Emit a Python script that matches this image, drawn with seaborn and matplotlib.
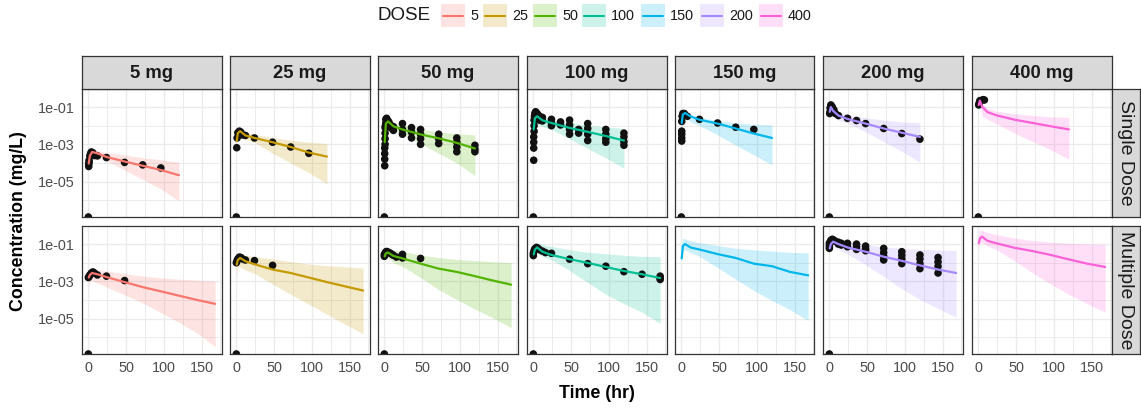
import numpy as np
import pandas as pd
import matplotlib
matplotlib.use("Agg")
import matplotlib.pyplot as plt
import seaborn as sns
from matplotlib.patches import Rectangle
from matplotlib.lines import Line2D
from matplotlib.ticker import FixedLocator, FixedFormatter, NullFormatter

# ---------------- data ----------------
doses = [5, 25, 50, 100, 150, 200, 400]
dose_labels = ["5 mg", "25 mg", "50 mg", "100 mg", "150 mg", "200 mg", "400 mg"]
regimens = ["Single Dose", "Multiple Dose"]
palette = ["#F8766D", "#C49A00", "#53B400", "#00C094", "#00B6EB", "#A58AFF", "#FB61D7"]

ytick_vals = [1e-7, 1e-5, 1e-3, 1e-1]
ytick_labels = ["1e-07", "1e-05", "1e-03", "1e-01"]
xtick_vals = [0, 50, 100, 150]
xtick_labels = ["0", "50", "100", "150"]

t_single = [0.5, 2, 5, 12, 24, 48, 72, 96, 120]
t_multi = [0.5, 2, 5, 12, 24, 48, 72, 96, 120, 144, 168]

# Single dose: predicted median, 5th and 95th percentiles (mg/L)
sd5_med = [9.3e-5, 2.4e-4, 3.9e-4, 3.3e-4, 2.1e-4, 1.2e-4, 7.1e-5, 4.2e-5, 2.2e-5]
sd5_lo = [6.3e-5, 1.6e-4, 2.5e-4, 1.8e-4, 1.3e-4, 4.2e-5, 1.3e-5, 4.0e-6, 9.1e-7]
sd5_hi = [1.3e-4, 3.5e-4, 5.0e-4, 4.5e-4, 3.6e-4, 2.7e-4, 1.9e-4, 1.5e-4, 1.1e-4]
sd5_obs_t = [0, 0.5, 0.5, 1, 1, 2, 3, 4, 6, 8, 12, 24, 48, 72, 96]
sd5_obs_c = [0, 6.5e-5, 8.7e-5, 1.1e-4, 1.4e-4, 2.4e-4, 3.2e-4, 3.9e-4, 3.5e-4, 2.5e-4, 2.4e-4,
             1.95e-4, 1.07e-4, 7.9e-5, 5.4e-5]

sd25_med = [1.5e-3, 4.0e-3, 5.1e-3, 3.0e-3, 2.2e-3, 1.3e-3, 7.2e-4, 3.6e-4, 2.2e-4]
sd25_lo = [1.0e-3, 2.5e-3, 2.5e-3, 1.8e-3, 1.3e-3, 3.3e-4, 1.0e-4, 3.0e-5, 7.6e-6]
sd25_hi = [2.5e-3, 5.4e-3, 5.5e-3, 4.5e-3, 3.4e-3, 2.3e-3, 1.7e-3, 1.3e-3, 1.1e-3]
sd25_obs_t = [0, 0.5, 1, 2, 4, 6, 8, 12, 24, 48, 72, 96]
sd25_obs_c = [0, 6.6e-4, 2.2e-3, 4.2e-3, 5.1e-3, 4.5e-3, 3.2e-3, 3.0e-3, 2.2e-3, 1.3e-3, 7.2e-4, 3.3e-4]

sd50_med = [1.3e-3, 1.3e-2, 1.7e-2, 9.3e-3, 6.3e-3, 3.4e-3, 2.1e-3, 1.2e-3, 6.0e-4]
sd50_lo = [5.0e-4, 6.3e-3, 7.9e-3, 5.0e-3, 3.5e-3, 1.1e-3, 3.3e-4, 1.0e-4, 2.1e-5]
sd50_hi = [4.0e-3, 2.0e-2, 2.1e-2, 1.4e-2, 1.1e-2, 6.5e-3, 4.6e-3, 3.8e-3, 3.2e-3]
sd50_obs_t = [0, 0.5, 0.5, 0.5, 0.5, 1, 1, 1, 1, 1.5, 2, 2, 3, 4, 4, 6, 6, 8, 8, 12, 12,
              24, 24, 24, 36, 36, 36, 48, 48, 48, 48, 72, 72, 72, 96, 96, 96, 96, 120, 120, 120]
sd50_obs_c = [0, 7.1e-5, 1.6e-4, 3.2e-4, 6.3e-4, 1.0e-3, 2.0e-3, 4.0e-3, 7.9e-3, 1.0e-2,
              1.4e-2, 2.2e-2, 2.5e-2, 2.0e-2, 1.3e-2, 1.6e-2, 1.0e-2, 1.1e-2, 7.9e-3, 8.9e-3,
              5.6e-3, 1.3e-2, 6.3e-3, 3.5e-3, 7.9e-3, 4.5e-3, 2.2e-3, 6.3e-3, 3.5e-3, 2.0e-3,
              1.0e-3, 3.5e-3, 2.0e-3, 1.1e-3, 2.2e-3, 1.3e-3, 7.1e-4, 4.0e-4, 8.9e-4, 5.6e-4, 4.0e-4]

sd100_med = [6.3e-3, 2.5e-2, 3.2e-2, 1.95e-2, 1.4e-2, 7.6e-3, 4.7e-3, 2.8e-3, 1.6e-3]
sd100_lo = [2.5e-3, 1.0e-2, 1.15e-2, 8.9e-3, 6.3e-3, 2.0e-3, 6.0e-4, 1.9e-4, 5.2e-5]
sd100_hi = [1.6e-2, 4.0e-2, 4.3e-2, 2.8e-2, 2.1e-2, 1.45e-2, 1.05e-2, 8.5e-3, 7.1e-3]
sd100_obs_t = [0, 0.5, 0.5, 0.5, 0.5, 1, 1, 1, 1.5, 2, 2, 3, 4, 4, 6, 6, 8, 8, 12, 12,
               24, 24, 24, 36, 36, 48, 48, 48, 48, 60, 60, 72, 72, 72, 72, 96, 96, 96, 96,
               120, 120, 120, 120]
sd100_obs_c = [0, 1.4e-4, 6.3e-4, 1.3e-3, 2.5e-3, 5.0e-3, 1.0e-2, 2.0e-2, 3.2e-2, 4.5e-2,
               2.5e-2, 5.6e-2, 5.0e-2, 2.8e-2, 4.0e-2, 2.2e-2, 3.2e-2, 2.0e-2, 2.8e-2, 1.8e-2,
               2.2e-2, 1.4e-2, 1.0e-2, 1.6e-2, 1.1e-2, 2.0e-2, 1.1e-2, 6.3e-3, 3.5e-3, 6.3e-3,
               4.0e-3, 1.3e-2, 7.1e-3, 3.5e-3, 1.6e-3, 6.3e-3, 3.5e-3, 2.0e-3, 1.3e-3, 4.0e-3,
               2.5e-3, 1.4e-3, 8.9e-4]

sd150_med = [1.4e-2, 4.0e-2, 4.8e-2, 3.2e-2, 2.1e-2, 1.3e-2, 7.1e-3, 3.8e-3, 2.2e-3]
sd150_lo = [7.9e-3, 2.5e-2, 2.8e-2, 1.6e-2, 1.0e-2, 3.2e-3, 9.1e-4, 2.7e-4, 7.9e-5]
sd150_hi = [2.5e-2, 5.6e-2, 5.6e-2, 4.0e-2, 2.8e-2, 1.9e-2, 1.4e-2, 1.2e-2, 1.1e-2]
sd150_obs_t = [0, 0.5, 0.5, 0.5, 0.5, 0.5, 1, 2, 4, 8, 24, 48, 72, 96]
sd150_obs_c = [0, 1.5e-3, 2.2e-3, 3.5e-3, 5.1e-3, 1.7e-2, 3.2e-2, 4.5e-2, 4.5e-2, 3.2e-2,
               2.2e-2, 1.4e-2, 8.3e-3, 6.3e-3]

sd200_med = [5.6e-2, 1.0e-1, 6.3e-2, 3.5e-2, 2.3e-2, 1.3e-2, 7.1e-3, 4.2e-3, 2.5e-3]
sd200_lo = [3.2e-2, 6.3e-2, 3.5e-2, 2.0e-2, 1.4e-2, 4.7e-3, 1.4e-3, 4.2e-4, 1.1e-4]
sd200_hi = [1.0e-1, 1.3e-1, 1.0e-1, 5.6e-2, 4.0e-2, 2.7e-2, 2.0e-2, 1.6e-2, 1.4e-2]
sd200_obs_t = [0, 0.5, 1, 1, 2, 2, 3, 4, 4, 6, 8, 12, 24, 36, 48, 72, 96, 120]
sd200_obs_c = [0, 4.5e-2, 8.9e-2, 5.6e-2, 1.3e-1, 7.9e-2, 1.1e-1, 1.0e-1, 6.3e-2, 7.1e-2,
               4.5e-2, 3.5e-2, 2.5e-2, 1.9e-2, 1.3e-2, 7.1e-3, 3.8e-3, 1.9e-3]

sd400_med = [1.3e-1, 2.2e-1, 1.05e-1, 5.4e-2, 3.6e-2, 2.1e-2, 1.4e-2, 9.3e-3, 6.3e-3]
sd400_lo = [1.0e-1, 1.4e-1, 3.2e-2, 2.2e-2, 1.3e-2, 4.0e-3, 1.4e-3, 5.0e-4, 1.6e-4]
sd400_hi = [2.5e-1, 3.2e-1, 1.6e-1, 8.9e-2, 6.0e-2, 4.4e-2, 3.5e-2, 3.0e-2, 2.8e-2]
sd400_obs_t = [0, 0.5, 1, 2, 6, 8]
sd400_obs_c = [0, 1.3e-1, 1.6e-1, 2.2e-1, 2.5e-1, 2.4e-1]

# Multiple dose
md5_med = [1.6e-3, 2.2e-3, 2.8e-3, 2.4e-3, 1.7e-3, 9.1e-4, 4.9e-4, 2.9e-4, 1.7e-4, 1.0e-4, 6.2e-5]
md5_lo = [3.2e-4, 1.0e-3, 1.1e-3, 7.9e-4, 5.0e-4, 1.9e-4, 6.9e-5, 2.1e-5, 6.3e-6, 1.7e-6, 3.1e-7]
md5_hi = [3.2e-3, 4.5e-3, 4.8e-3, 4.2e-3, 3.6e-3, 2.6e-3, 1.9e-3, 1.55e-3, 1.3e-3, 1.15e-3, 1.05e-3]
md5_obs_t = [0, 0, 1, 2, 4, 6, 8, 12, 24, 48]
md5_obs_c = [0, 1.6e-3, 1.8e-3, 2.2e-3, 2.8e-3, 3.2e-3, 2.8e-3, 2.2e-3, 1.9e-3, 1.1e-3]

md25_med = [7.9e-3, 1.4e-2, 1.8e-2, 1.2e-2, 8.3e-3, 4.3e-3, 2.8e-3, 1.6e-3, 9.1e-4, 5.4e-4, 3.2e-4]
md25_lo = [1.8e-3, 6.3e-3, 5.9e-3, 4.0e-3, 2.7e-3, 7.1e-4, 2.0e-4, 5.9e-5, 1.7e-5, 5.0e-6, 1.5e-6]
md25_hi = [2.0e-2, 3.2e-2, 3.0e-2, 2.5e-2, 2.1e-2, 1.6e-2, 1.15e-2, 8.5e-3, 6.9e-3, 6.0e-3, 5.2e-3]
md25_obs_t = [0, 0, 1, 2, 4, 6, 8, 12, 24, 48]
md25_obs_c = [0, 1.0e-2, 1.3e-2, 1.6e-2, 2.0e-2, 1.9e-2, 1.6e-2, 1.4e-2, 1.3e-2, 7.2e-3]

md50_med = [2.2e-2, 3.2e-2, 3.5e-2, 2.3e-2, 1.7e-2, 8.9e-3, 4.8e-3, 3.2e-3, 1.9e-3, 1.1e-3, 6.6e-4]
md50_lo = [1.1e-2, 1.6e-2, 1.8e-2, 1.0e-2, 6.3e-3, 1.6e-3, 3.6e-4, 1.05e-4, 3.2e-5, 1.1e-5, 3.2e-6]
md50_hi = [4.5e-2, 6.0e-2, 5.9e-2, 4.8e-2, 4.0e-2, 2.6e-2, 1.9e-2, 1.5e-2, 1.3e-2, 1.15e-2, 1.0e-2]
md50_obs_t = [0, 0, 0, 1, 2, 3, 4, 6, 8, 10, 12, 16, 24, 24, 48]
md50_obs_c = [0, 2.2e-2, 2.8e-2, 3.2e-2, 3.8e-2, 4.0e-2, 3.8e-2, 3.5e-2, 3.2e-2, 2.8e-2,
              2.5e-2, 2.0e-2, 2.8e-2, 1.8e-2, 1.7e-2]

md100_med = [2.8e-2, 5.0e-2, 6.6e-2, 3.9e-2, 2.6e-2, 1.55e-2, 9.8e-3, 5.9e-3, 3.6e-3, 2.4e-3, 1.5e-3]
md100_lo = [8.9e-3, 2.5e-2, 3.4e-2, 2.2e-2, 1.45e-2, 3.8e-3, 8.7e-4, 2.0e-4, 6.3e-5, 2.2e-5, 5.6e-6]
md100_hi = [7.9e-2, 1.26e-1, 1.2e-1, 9.5e-2, 7.4e-2, 5.0e-2, 3.6e-2, 3.0e-2, 2.5e-2, 2.2e-2, 2.1e-2]
md100_obs_t = [0, 0, 0, 1, 2, 4, 6, 8, 12, 16, 24, 48, 72, 96, 120, 144, 168, 168, 168]
md100_obs_c = [0, 3.2e-2, 2.4e-2, 4.5e-2, 5.6e-2, 6.6e-2, 6.0e-2, 5.0e-2, 4.2e-2, 3.5e-2,
               3.2e-2, 1.55e-2, 8.9e-3, 6.5e-3, 3.3e-3, 2.4e-3, 1.9e-3, 1.5e-3, 1.26e-3]

md150_med = [1.7e-2, 7.9e-2, 1.0e-1, 6.6e-2, 5.1e-2, 2.9e-2, 1.8e-2, 8.9e-3, 6.5e-3, 3.2e-3, 2.1e-3]
md150_lo = [1.4e-2, 4.0e-2, 5.1e-2, 3.5e-2, 2.2e-2, 5.4e-3, 1.3e-3, 3.2e-4, 9.3e-5, 3.0e-5, 7.8e-6]
md150_hi = [1.1e-1, 2.0e-1, 1.9e-1, 1.5e-1, 1.2e-1, 8.3e-2, 6.0e-2, 4.9e-2, 4.2e-2, 3.6e-2, 3.4e-2]
md150_obs_t = []
md150_obs_c = []

md200_med = [5.9e-2, 1.0e-1, 1.35e-1, 1.0e-1, 6.6e-2, 3.9e-2, 2.1e-2, 1.26e-2, 7.2e-3, 4.3e-3, 2.8e-3]
md200_lo = [5.0e-2, 6.3e-2, 7.2e-2, 5.0e-2, 3.0e-2, 7.9e-3, 1.8e-3, 4.0e-4, 1.05e-4, 3.5e-5, 1.2e-5]
md200_hi = [1.6e-1, 2.5e-1, 2.4e-1, 1.8e-1, 1.35e-1, 9.5e-2, 6.9e-2, 5.8e-2, 5.2e-2, 4.8e-2, 4.4e-2]
md200_obs_t = [0, 0, 0, 0, 1, 2, 4, 6, 8, 12, 12, 16, 16, 24, 24, 36, 36, 36, 48, 48, 48,
               72, 72, 72, 72, 96, 96, 96, 96, 120, 120, 120, 120, 144, 144, 144, 144]
md200_obs_c = [0, 1.1e-1, 7.9e-2, 5.9e-2, 1.26e-1, 1.6e-1, 1.8e-1, 1.6e-1, 1.4e-1, 1.26e-1,
               1.0e-1, 1.1e-1, 8.9e-2, 1.1e-1, 7.2e-2, 1.0e-1, 7.1e-2, 5.2e-2, 7.8e-2, 5.6e-2,
               4.4e-2, 5.9e-2, 3.5e-2, 2.2e-2, 1.4e-2, 3.9e-2, 2.5e-2, 1.6e-2, 8.9e-3, 2.6e-2,
               1.6e-2, 8.9e-3, 4.8e-3, 1.9e-2, 1.1e-2, 6.3e-3, 2.8e-3]

md400_med = [1.1e-1, 2.0e-1, 2.5e-1, 1.5e-1, 1.1e-1, 6.3e-2, 4.2e-2, 2.6e-2, 1.5e-2, 8.9e-3, 5.9e-3]
md400_lo = [3.9e-2, 1.1e-1, 1.26e-1, 7.9e-2, 5.0e-2, 1.26e-2, 2.8e-3, 7.1e-4, 2.0e-4, 6.3e-5, 2.2e-5]
md400_hi = [3.5e-1, 5.8e-1, 5.5e-1, 4.2e-1, 3.2e-1, 2.1e-1, 1.55e-1, 1.26e-1, 1.1e-1, 1.02e-1, 9.5e-2]
md400_obs_t = []
md400_obs_c = []

# ---------------- tables ----------------
pred_sources = {
    "Single Dose": [(t_single, sd5_med, sd5_lo, sd5_hi), (t_single, sd25_med, sd25_lo, sd25_hi),
                    (t_single, sd50_med, sd50_lo, sd50_hi), (t_single, sd100_med, sd100_lo, sd100_hi),
                    (t_single, sd150_med, sd150_lo, sd150_hi), (t_single, sd200_med, sd200_lo, sd200_hi),
                    (t_single, sd400_med, sd400_lo, sd400_hi)],
    "Multiple Dose": [(t_multi, md5_med, md5_lo, md5_hi), (t_multi, md25_med, md25_lo, md25_hi),
                      (t_multi, md50_med, md50_lo, md50_hi), (t_multi, md100_med, md100_lo, md100_hi),
                      (t_multi, md150_med, md150_lo, md150_hi), (t_multi, md200_med, md200_lo, md200_hi),
                      (t_multi, md400_med, md400_lo, md400_hi)],
}
obs_sources = {
    "Single Dose": [(sd5_obs_t, sd5_obs_c), (sd25_obs_t, sd25_obs_c), (sd50_obs_t, sd50_obs_c),
                    (sd100_obs_t, sd100_obs_c), (sd150_obs_t, sd150_obs_c),
                    (sd200_obs_t, sd200_obs_c), (sd400_obs_t, sd400_obs_c)],
    "Multiple Dose": [(md5_obs_t, md5_obs_c), (md25_obs_t, md25_obs_c), (md50_obs_t, md50_obs_c),
                      (md100_obs_t, md100_obs_c), (md150_obs_t, md150_obs_c),
                      (md200_obs_t, md200_obs_c), (md400_obs_t, md400_obs_c)],
}

pred_rows, obs_rows = [], []
for reg in regimens:
    for dose, (tt, med, lo, hi) in zip(doses, pred_sources[reg]):
        for a, b, c, d in zip(tt, med, lo, hi):
            pred_rows.append(dict(REG=reg, DOSE=dose, TIME=a, MED=b, LO=c, HI=d))
    for dose, (tt, cc) in zip(doses, obs_sources[reg]):
        for a, b in zip(tt, cc):
            obs_rows.append(dict(REG=reg, DOSE=dose, TIME=a, DV=b))
pred = pd.DataFrame(pred_rows)
obs = pd.DataFrame(obs_rows)

# ---------------- style ----------------
sns.set_style("white")
plt.rcParams["font.family"] = ["Liberation Sans", "DejaVu Sans"]

W, H = 1141, 408
fig = plt.figure(figsize=(W / 100, H / 100), dpi=100)

YMIN, YMAX = 10 ** -6.9, 10 ** -0.03
XMIN, XMAX = -8.4, 176.4
GRID = "#EBEBEB"
BORDER = "#333333"
STRIP = "#D9D9D9"

col_left = [82, 230, 378, 527, 675, 823, 972]
panel_w = 139.5
row_top = [89, 226]
panel_h = 128
strip_h = 33
strip_w = 28


def fig_rect(left, top, w, h):
    return [left / W, 1 - (top + h) / H, w / W, h / H]


for r, reg in enumerate(regimens):
    for c, dose in enumerate(doses):
        color = palette[c]
        ax = fig.add_axes(fig_rect(col_left[c], row_top[r], panel_w, panel_h))
        ax.set_yscale("log")
        p = pred[(pred.REG == reg) & (pred.DOSE == dose)]
        o = obs[(obs.REG == reg) & (obs.DOSE == dose)].copy()

        ax.fill_between(p.TIME, p.LO, p.HI, color=color, alpha=0.2, lw=0, zorder=1)
        if len(o):
            o["DVP"] = np.where(o.DV > 0, o.DV, YMIN)
            sns.scatterplot(data=o, x="TIME", y="DVP", ax=ax, color="#111111", s=30,
                            edgecolor="none", linewidth=0, zorder=2, legend=False)
        sns.lineplot(data=p, x="TIME", y="MED", ax=ax, color=color, linewidth=1.6,
                     estimator=None, sort=False, zorder=3, legend=False)

        ax.set_xlim(XMIN, XMAX)
        ax.set_ylim(YMIN, YMAX)
        ax.set_xlabel("")
        ax.set_ylabel("")
        ax.yaxis.set_major_locator(FixedLocator(ytick_vals))
        ax.yaxis.set_major_formatter(FixedFormatter(ytick_labels))
        ax.yaxis.set_minor_locator(FixedLocator([1e-6, 1e-4, 1e-2, 1e0]))
        ax.yaxis.set_minor_formatter(NullFormatter())
        ax.xaxis.set_major_locator(FixedLocator(xtick_vals))
        ax.xaxis.set_major_formatter(FixedFormatter(xtick_labels))
        ax.xaxis.set_minor_locator(FixedLocator([25, 75, 125, 175]))
        ax.set_axisbelow(True)
        ax.grid(which="major", color=GRID, lw=1.0)
        ax.grid(which="minor", color=GRID, lw=0.7)
        for s in ax.spines.values():
            s.set_color(BORDER)
            s.set_linewidth(0.9)
        ax.tick_params(which="major", length=2.8, width=0.8, color=BORDER,
                       labelsize=10.4, labelcolor="#4D4D4D", pad=2.5)
        ax.tick_params(which="minor", length=0)
        if c > 0:
            ax.tick_params(axis="y", left=False, labelleft=False)
        if r == 0:
            ax.tick_params(axis="x", bottom=False, labelbottom=False)

        # top strips
        if r == 0:
            sa = fig.add_axes(fig_rect(col_left[c], row_top[0] - strip_h, panel_w, strip_h))
            sa.set_facecolor(STRIP)
            sa.set_xticks([]); sa.set_yticks([])
            for s in sa.spines.values():
                s.set_color(BORDER); s.set_linewidth(0.9)
            sa.text(0.5, 0.48, dose_labels[c], ha="center", va="center",
                    fontsize=13.2, fontweight="bold", color="#1A1A1A", transform=sa.transAxes)
        # right strips
        if c == len(doses) - 1:
            sa = fig.add_axes(fig_rect(col_left[c] + panel_w, row_top[r], strip_w, panel_h))
            sa.set_facecolor(STRIP)
            sa.set_xticks([]); sa.set_yticks([])
            for s in sa.spines.values():
                s.set_color(BORDER); s.set_linewidth(0.9)
            sa.text(0.5, 0.5, reg, ha="center", va="center", rotation=270,
                    fontsize=14, color="#1A1A1A", transform=sa.transAxes)

# axis titles
fig.text(18.5 / W, 1 - 221.5 / H, "Concentration (mg/L)", rotation=90, ha="center",
         va="center", fontsize=12.8, fontweight="bold", color="black")
fig.text(596.5 / W, 1 - 393 / H, "Time (hr)", ha="center", va="center",
         fontsize=12.8, fontweight="bold", color="black")

# legend
fig.text(378 / W, 1 - 16 / H, "DOSE", ha="left", va="center", fontsize=13.5,
         color="#1A1A1A")
key_left = [441, 483, 533, 582, 641, 700, 759]
key_w, key_h, key_top = 24, 23, 4
for x0, color, lab in zip(key_left, palette, doses):
    fig.add_artist(Rectangle((x0 / W, 1 - (key_top + key_h) / H), key_w / W, key_h / H,
                             transform=fig.transFigure, facecolor=color, alpha=0.2,
                             edgecolor="none"))
    yc = 1 - (key_top + key_h / 2) / H
    fig.add_artist(Line2D([(x0 + 2) / W, (x0 + key_w - 2) / W], [yc, yc],
                          transform=fig.transFigure, color=color, lw=1.5))
    fig.text((x0 + key_w + 5) / W, 1 - 16 / H, str(lab), ha="left", va="center",
             fontsize=10.4, color="#1A1A1A")

fig.savefig("out.png", dpi=100)
